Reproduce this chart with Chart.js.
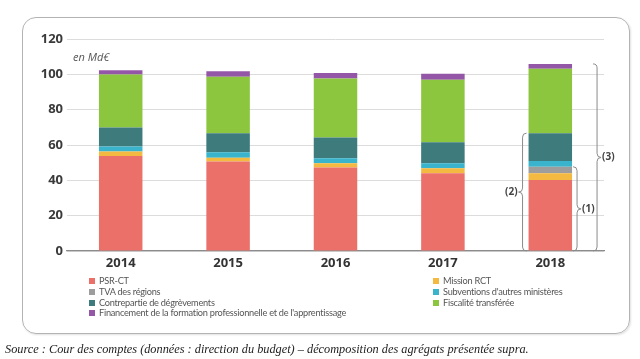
<!DOCTYPE html>
<html lang="fr">
<head>
<meta charset="utf-8">
<script src="https://cdn.jsdelivr.net/npm/chart.js@4/dist/chart.umd.min.js"></script>
<style>
  html, body { margin: 0; padding: 0; background: #fff; }
  body { width: 640px; height: 359px; position: relative; overflow: hidden; font-family: "Open Sans", sans-serif; }
  #frame {
    position: absolute; left: 22px; top: 17px; width: 606px; height: 315px;
    border: 1.5px solid #b3b3b3; border-radius: 14px;
    box-shadow: 1px 1px 2px rgba(0,0,0,0.12);
  }
  #chart { position: absolute; left: 0; top: 0; }
  .legend-col { position: absolute; top: 276px; font-family: Lato, sans-serif; font-size: 9.2px; color: #555; letter-spacing: -0.25px; }
  .legend-item { height: 10.8px; line-height: 10.8px; white-space: nowrap; }
  .legend-item span.box { display: inline-block; width: 6px; height: 6px; margin-right: 4px; vertical-align: 0px; }
  #source {
    position: absolute; left: 5px; top: 342px; font-family: "Liberation Serif", serif;
    font-style: italic; font-size: 12.3px; color: #222; white-space: nowrap;
  }
</style>
</head>
<body>
<div id="frame"></div>
<canvas id="chart" width="640" height="359"></canvas>
<div class="legend-col" id="legend-left" style="left:89px"></div>
<div class="legend-col" id="legend-right" style="left:433px"></div>
<div id="source">Source : Cour des comptes (données : direction du budget) – décomposition des agrégats présentée supra.</div>

<script>
// ----- DATA (en Md€) -----
const years = ["2014", "2015", "2016", "2017", "2018"];
const psrCt = [53.8, 50.6, 47.2, 44.0, 40.2];
const missionRct = [2.5, 2.2, 2.5, 2.8, 3.8];
const tvaRegions = [0, 0, 0, 0, 3.7];
const subventions = [2.8, 3.1, 2.8, 2.9, 3.3];
const contrepartie = [10.8, 10.8, 11.7, 11.9, 15.7];
const fiscalite = [30.0, 32.0, 33.4, 35.4, 36.4];
const formation = [2.4, 3.0, 3.2, 3.4, 2.8];

const yTicks = [0, 20, 40, 60, 80, 100, 120];

const seriesNames = [
    "PSR-CT",
    "Mission RCT",
    "TVA des régions",
    "Subventions d'autres ministères",
    "Contrepartie de dégrèvements",
    "Fiscalité transférée",
    "Financement de la formation professionnelle et de l'apprentissage"
];
const seriesData = [psrCt, missionRct, tvaRegions, subventions, contrepartie, fiscalite, formation];
const seriesColors = ["#eb706a", "#f4b940", "#9d9d9d", "#3ab4cc", "#3e7b7d", "#8cc63f", "#9457a8"];


// ----- LEGEND (two columns like the original) -----
function legendItem(i) {
    return '<div class="legend-item"><span class="box" style="background:' + seriesColors[i] + '"></span>' + seriesNames[i] + '</div>';
}
document.getElementById("legend-left").innerHTML = [0, 2, 4, 6].map(legendItem).join("");
document.getElementById("legend-right").innerHTML = [1, 3, 5].map(legendItem).join("");


// ----- BRACES (1) (2) (3) on 2018 -----
function drawBrace(ctx, x, yTop, yBot, dir, label) {
    const h = 4;
    const mid = (yTop + yBot) / 2;
    ctx.beginPath();
    ctx.moveTo(x - dir * h, yTop);
    ctx.quadraticCurveTo(x, yTop, x, yTop + h);
    ctx.lineTo(x, mid - h);
    ctx.quadraticCurveTo(x, mid, x + dir * h, mid);
    ctx.quadraticCurveTo(x, mid, x, mid + h);
    ctx.lineTo(x, yBot - h);
    ctx.quadraticCurveTo(x, yBot, x - dir * h, yBot);
    ctx.stroke();
    ctx.textAlign = dir > 0 ? "left" : "right";
    ctx.fillText(label, x + dir * (h + 1), mid);
}

function stackTop(idx, upTo) {
    let s = 0;
    for (let k = 0; k <= upTo; k++) s += seriesData[k][idx];
    return s;
}

const annotations = {
    id: "annotations",
    afterDatasetsDraw(chart) {
        const ctx = chart.ctx;
        const y = chart.scales.y;
        const area = chart.chartArea;
        const last = years.length - 1;
        const bar = chart.getDatasetMeta(0).data[last];
        const half = bar.width / 2;
        const y0 = y.getPixelForValue(0);

        ctx.save();
        ctx.strokeStyle = "#8a8a8a";
        ctx.lineWidth = 1;
        ctx.fillStyle = "#444";
        ctx.font = "bold 10px 'Open Sans'";
        ctx.textBaseline = "middle";
        drawBrace(ctx, bar.x + half + 5, y.getPixelForValue(stackTop(last, 2)), y0, 1, "(1)");
        drawBrace(ctx, bar.x - half - 6, y.getPixelForValue(stackTop(last, 4)), y0, -1, "(2)");
        drawBrace(ctx, bar.x + half + 25, y.getPixelForValue(stackTop(last, 6)), y0, 1, "(3)");

        // unit label
        ctx.fillStyle = "#555";
        ctx.font = "italic 11px 'Open Sans'";
        ctx.textAlign = "left";
        ctx.fillText("en Md€", area.left + 6, area.top + 19);
        ctx.restore();
    }
};


// ----- CHART -----
const ctx = document.getElementById("chart").getContext("2d");

new Chart(ctx, {
    type: "bar",
    data: {
        labels: years,
        datasets: seriesNames.map((name, i) => ({
            label: name,
            data: seriesData[i],
            backgroundColor: seriesColors[i],
            borderWidth: 0,
            barPercentage: 0.405,
            categoryPercentage: 1
        }))
    },
    options: {
        responsive: false,
        animation: false,
        devicePixelRatio: 1,
        layout: { padding: { left: 28, right: 36, top: 39, bottom: 80 } },
        plugins: {
            legend: { display: false },
            tooltip: { enabled: false }
        },
        scales: {
            x: {
                stacked: true,
                grid: { display: false, drawTicks: false },
                border: { display: true, color: "#8c8c8c", width: 1.2 },
                ticks: {
                    color: "#333",
                    font: { family: "Open Sans", size: 13, weight: "bold" },
                    padding: 4
                },
                afterFit(scale) { scale.height = 28; }
            },
            y: {
                stacked: true,
                min: yTicks[0],
                max: yTicks[yTicks.length - 1],
                afterBuildTicks(scale) { scale.ticks = yTicks.map(v => ({ value: v })); },
                grid: { color: "#dcdcdc", lineWidth: 1, drawTicks: false },
                border: { display: false },
                ticks: {
                    color: "#3a3a3a",
                    font: { family: "Open Sans", size: 13, weight: "bold" },
                    padding: 4
                },
                afterFit(scale) { scale.width = 39; }
            }
        }
    },
    plugins: [annotations]
});
</script>
</body>
</html>
